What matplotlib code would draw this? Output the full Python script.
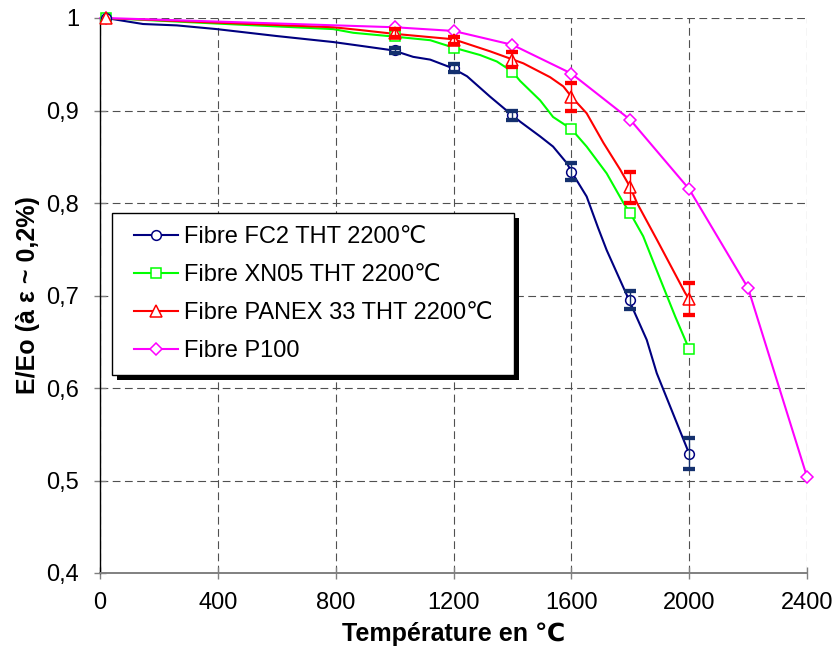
import matplotlib
matplotlib.use("Agg")
import matplotlib.pyplot as plt
from matplotlib.lines import Line2D
from matplotlib.patches import Rectangle

plt.rcParams['font.family'] = ['Liberation Sans', 'DejaVu Sans']

# ---------------- data ----------------
# marker temperatures
temp_pts = [20, 1000, 1200, 1400, 1600, 1800, 2000]
temp_p100 = [20, 1000, 1200, 1400, 1600, 1800, 2000, 2200, 2400]

fc2_pts = [1.0, 0.965, 0.946, 0.895, 0.834, 0.695, 0.529]
fc2_err = [0.0, 0.003, 0.004, 0.005, 0.009, 0.010, 0.017]
xn05_pts = [1.0, 0.981, 0.968, 0.942, 0.880, 0.789, 0.642]
panex_pts = [1.0, 0.984, 0.976, 0.955, 0.915, 0.817, 0.696]
panex_err = [0.0, 0.004, 0.004, 0.008, 0.015, 0.017, 0.017]
p100_pts = [1.0, 0.990, 0.986, 0.971, 0.940, 0.890, 0.815, 0.708, 0.504]

fc2_curve_t = [20, 146, 261, 396, 600, 792, 883, 995, 1063, 1121, 1195, 1246,
               1324, 1399, 1426, 1494, 1538, 1585, 1600, 1652, 1691, 1720,
               1796, 1856, 1890, 2000]
fc2_curve_v = [1.0, 0.9935, 0.992, 0.988, 0.9805, 0.974, 0.970, 0.965, 0.958,
               0.955, 0.946, 0.937, 0.915, 0.895, 0.888, 0.872, 0.861, 0.843,
               0.834, 0.807, 0.773, 0.749, 0.695, 0.652, 0.616, 0.529]
xn05_curve_t = [20, 396, 792, 860, 995, 1121, 1200, 1290, 1347, 1400, 1426,
                1494, 1538, 1600, 1652, 1720, 1777, 1800, 1844, 1885, 1953, 2000]
xn05_curve_v = [1.0, 0.994, 0.988, 0.984, 0.980, 0.976, 0.968, 0.960, 0.953,
                0.942, 0.932, 0.911, 0.893, 0.880, 0.861, 0.832, 0.800, 0.789,
                0.764, 0.731, 0.677, 0.642]
panex_curve_t = [20, 396, 792, 883, 995, 1200, 1324, 1437, 1528, 1573, 1600,
                 1652, 1709, 1766, 1800, 1823, 1891, 1986, 2000]
panex_curve_v = [1.0, 0.995, 0.990, 0.987, 0.983, 0.977, 0.964, 0.951, 0.936,
                 0.926, 0.915, 0.897, 0.865, 0.836, 0.817, 0.800, 0.760, 0.703,
                 0.696]

labels = ["Fibre FC2 THT 2200\u2103", "Fibre XN05 THT 2200\u2103",
          "Fibre PANEX 33 THT 2200\u2103", "Fibre P100"]
x_ticks = [0, 400, 800, 1200, 1600, 2000, 2400]
y_ticks = [0.4, 0.5, 0.6, 0.7, 0.8, 0.9, 1.0]
y_tick_labels = ["0,4", "0,5", "0,6", "0,7", "0,8", "0,9", "1"]

c_fc2, c_xn, c_px, c_p100 = "#000080", "#00FF00", "#FF0000", "#FF00FF"
c_fc2_cap = "#14306e"

# ---------------- figure ----------------
fig = plt.figure(figsize=(8.35, 6.5), dpi=100)
ax = fig.add_axes([100 / 835, (650 - 573) / 650, 707 / 835, 555 / 650])

lw = 1.5
ms = 7
mew = 1.1

ax.plot(fc2_curve_t, fc2_curve_v, color=c_fc2, lw=lw, zorder=3)
ax.plot(xn05_curve_t, xn05_curve_v, color=c_xn, lw=lw, zorder=3)
ax.plot(panex_curve_t, panex_curve_v, color=c_px, lw=lw, zorder=3)
ax.plot(temp_p100, p100_pts, color=c_p100, lw=lw, zorder=3,
        marker='D', ms=6.5, mfc='white', mec=c_p100, mew=mew, clip_on=False)

ax.plot(temp_pts, xn05_pts, ls='none', marker='s', ms=ms, mfc='white',
        mec=c_xn, mew=mew, zorder=4, clip_on=False)
ax.plot(temp_pts, fc2_pts, ls='none', marker='o', ms=ms, mfc='white',
        mec=c_fc2, mew=mew, zorder=4, clip_on=False)
ax.plot(temp_pts, panex_pts, ls='none', marker='^', ms=ms + 1, mfc='white',
        mec=c_px, mew=mew, zorder=4, clip_on=False)

# error bars (skip first point, no error)
ax.errorbar(temp_pts[1:], fc2_pts[1:], yerr=fc2_err[1:], fmt='none',
            ecolor=c_fc2_cap, elinewidth=1, capsize=4.6, capthick=3.1, zorder=5)
ax.errorbar(temp_pts[1:], panex_pts[1:], yerr=panex_err[1:], fmt='none',
            ecolor=c_px, elinewidth=1, capsize=4.6, capthick=3.1, zorder=5)

ax.set_xlim(0, 2400)
ax.set_ylim(0.4, 1.0)
ax.set_xticks(x_ticks)
ax.set_xticklabels([str(t) for t in x_ticks])
ax.set_yticks(y_ticks)
ax.set_yticklabels(y_tick_labels)

ax.grid(True, color='#505050', lw=0.8, linestyle=(0, (7, 4)), zorder=0)
ax.set_axisbelow(True)
for s in ('top', 'right'):
    ax.spines[s].set_visible(False)
ax.spines['left'].set_color('black')
ax.spines['left'].set_linewidth(1.0)
ax.spines['bottom'].set_color('#808080')
ax.spines['bottom'].set_linewidth(1.4)

ax.tick_params(axis='both', direction='inout', length=8, width=1,
               color='#808080', labelsize=17)
ax.tick_params(axis='y', pad=11)
ax.tick_params(axis='x', pad=10)

ax.set_xlabel("Température en \u2103", fontsize=18, fontweight='bold')
ax.set_ylabel("E/Eo (à ε ~ 0,2%)", fontsize=18, fontweight='bold')
ax.xaxis.set_label_coords(0.5, -0.088)
ax.yaxis.set_label_coords(-0.085, 0.5)

handles = [
    Line2D([], [], color=c_fc2, lw=lw, marker='o', ms=ms, mfc='white', mec=c_fc2, mew=mew),
    Line2D([], [], color=c_xn, lw=lw, marker='s', ms=ms, mfc='white', mec=c_xn, mew=mew),
    Line2D([], [], color=c_px, lw=lw, marker='^', ms=ms + 1, mfc='white', mec=c_px, mew=mew),
    Line2D([], [], color=c_p100, lw=lw, marker='D', ms=6.5, mfc='white', mec=c_p100, mew=mew),
]
leg = ax.legend(handles, labels, loc='upper left',
                bbox_to_anchor=((121 - 100) / 707, (573 - 213) / 555),
                borderaxespad=0, borderpad=0.55, fontsize=17.0,
                handlelength=1.85, handletextpad=0.25, labelspacing=0.68,
                frameon=False)
leg.set_zorder(10)

fig.canvas.draw()
bb = leg.get_window_extent(fig.canvas.get_renderer())
inv = fig.transFigure.inverted()
padx = 9
(fx0, fy0) = inv.transform((bb.x0 - padx, bb.y0))
(fx1, fy1) = inv.transform((bb.x1 + padx, bb.y1))
(sx, sy) = inv.transform((5, 5)) - inv.transform((0, 0))
shadow = Rectangle((fx0 + sx, fy0 - sy), fx1 - fx0, fy1 - fy0, transform=fig.transFigure,
                   facecolor='black', edgecolor='black', lw=0, zorder=8, clip_on=False)
frame = Rectangle((fx0, fy0), fx1 - fx0, fy1 - fy0, transform=fig.transFigure,
                  facecolor='white', edgecolor='black', lw=1.0, zorder=9, clip_on=False)
ax.add_patch(shadow)
ax.add_patch(frame)

fig.savefig("out.png", dpi=100)
